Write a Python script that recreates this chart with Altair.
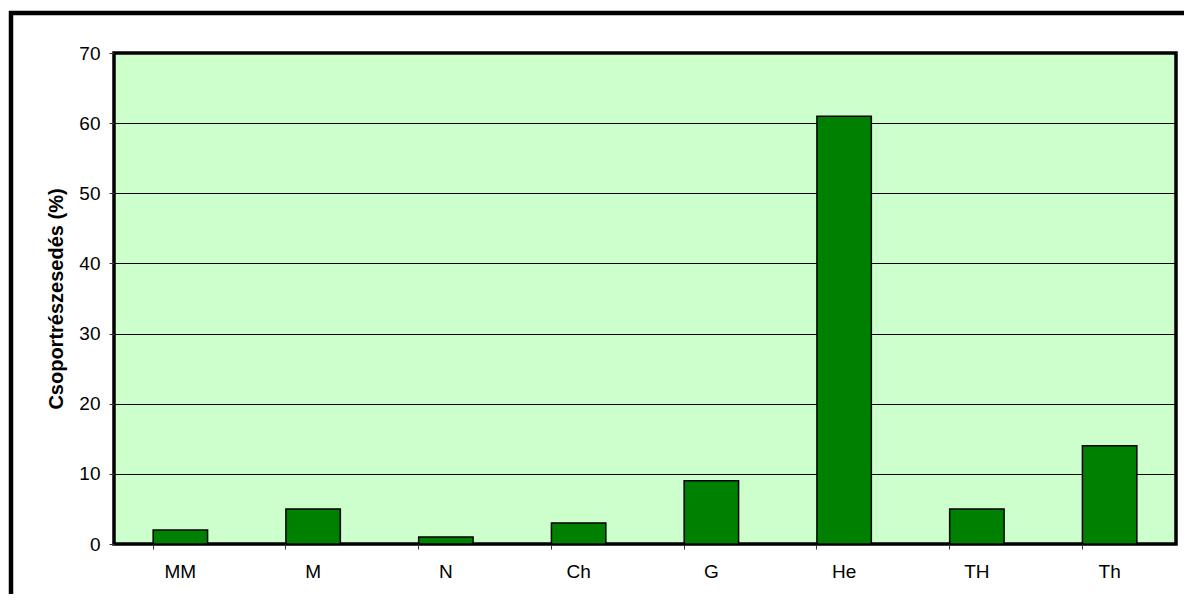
import altair as alt
import pandas as pd

categories = ["MM", "M", "N", "Ch", "G", "He", "TH", "Th"]
values = [2, 5, 1, 3, 9, 61, 5, 14]
y_ticks = [0, 10, 20, 30, 40, 50, 60, 70]

df = pd.DataFrame({"cat": categories, "val": values})

FONT = "Liberation Sans"

bars = alt.Chart(df).mark_bar(
    color="#008000", stroke="black", strokeWidth=1.5
).encode(
    x=alt.X("cat:N", sort=categories, title=None,
            scale=alt.Scale(paddingInner=0.59, paddingOuter=0.295),
            axis=alt.Axis(labelAngle=0, bandPosition=0, ticks=True, tickSize=5,
                          tickColor="#333333", labelPadding=13, labelFontSize=19,
                          labelFont=FONT, labelColor="black", domain=False, grid=False)),
    y=alt.Y("val:Q", title="Csoportrészesedés (%)",
            scale=alt.Scale(domain=[0, 70], nice=False),
            axis=alt.Axis(values=y_ticks, tickSize=5, tickColor="#333333",
                          labelPadding=9, labelFontSize=19, labelFont=FONT,
                          labelColor="black", domain=False, grid=True,
                          gridColor="black", gridWidth=1,
                          titleFont=FONT, titleFontSize=20, titleFontWeight="bold",
                          titleColor="black", titlePadding=12)),
)

frame = alt.Chart(pd.DataFrame({"a": [0]})).mark_rect(
    filled=False, stroke="black", strokeWidth=4.5
).encode(
    x=alt.value(-103), x2=alt.value(1200),
    y=alt.value(-40), y2=alt.value(700),
)

chart = alt.layer(bars, frame).properties(
    width=1062, height=491,
    autosize=alt.AutoSizeParams(type="none"),
    padding={"left": 106, "top": 45, "right": 8, "bottom": 50},
    background="white",
).configure_view(
    fill="#CCFFCC", stroke="black", strokeWidth=3.5
)

chart.save("out.html", embed_options={"renderer": "svg", "actions": False})
